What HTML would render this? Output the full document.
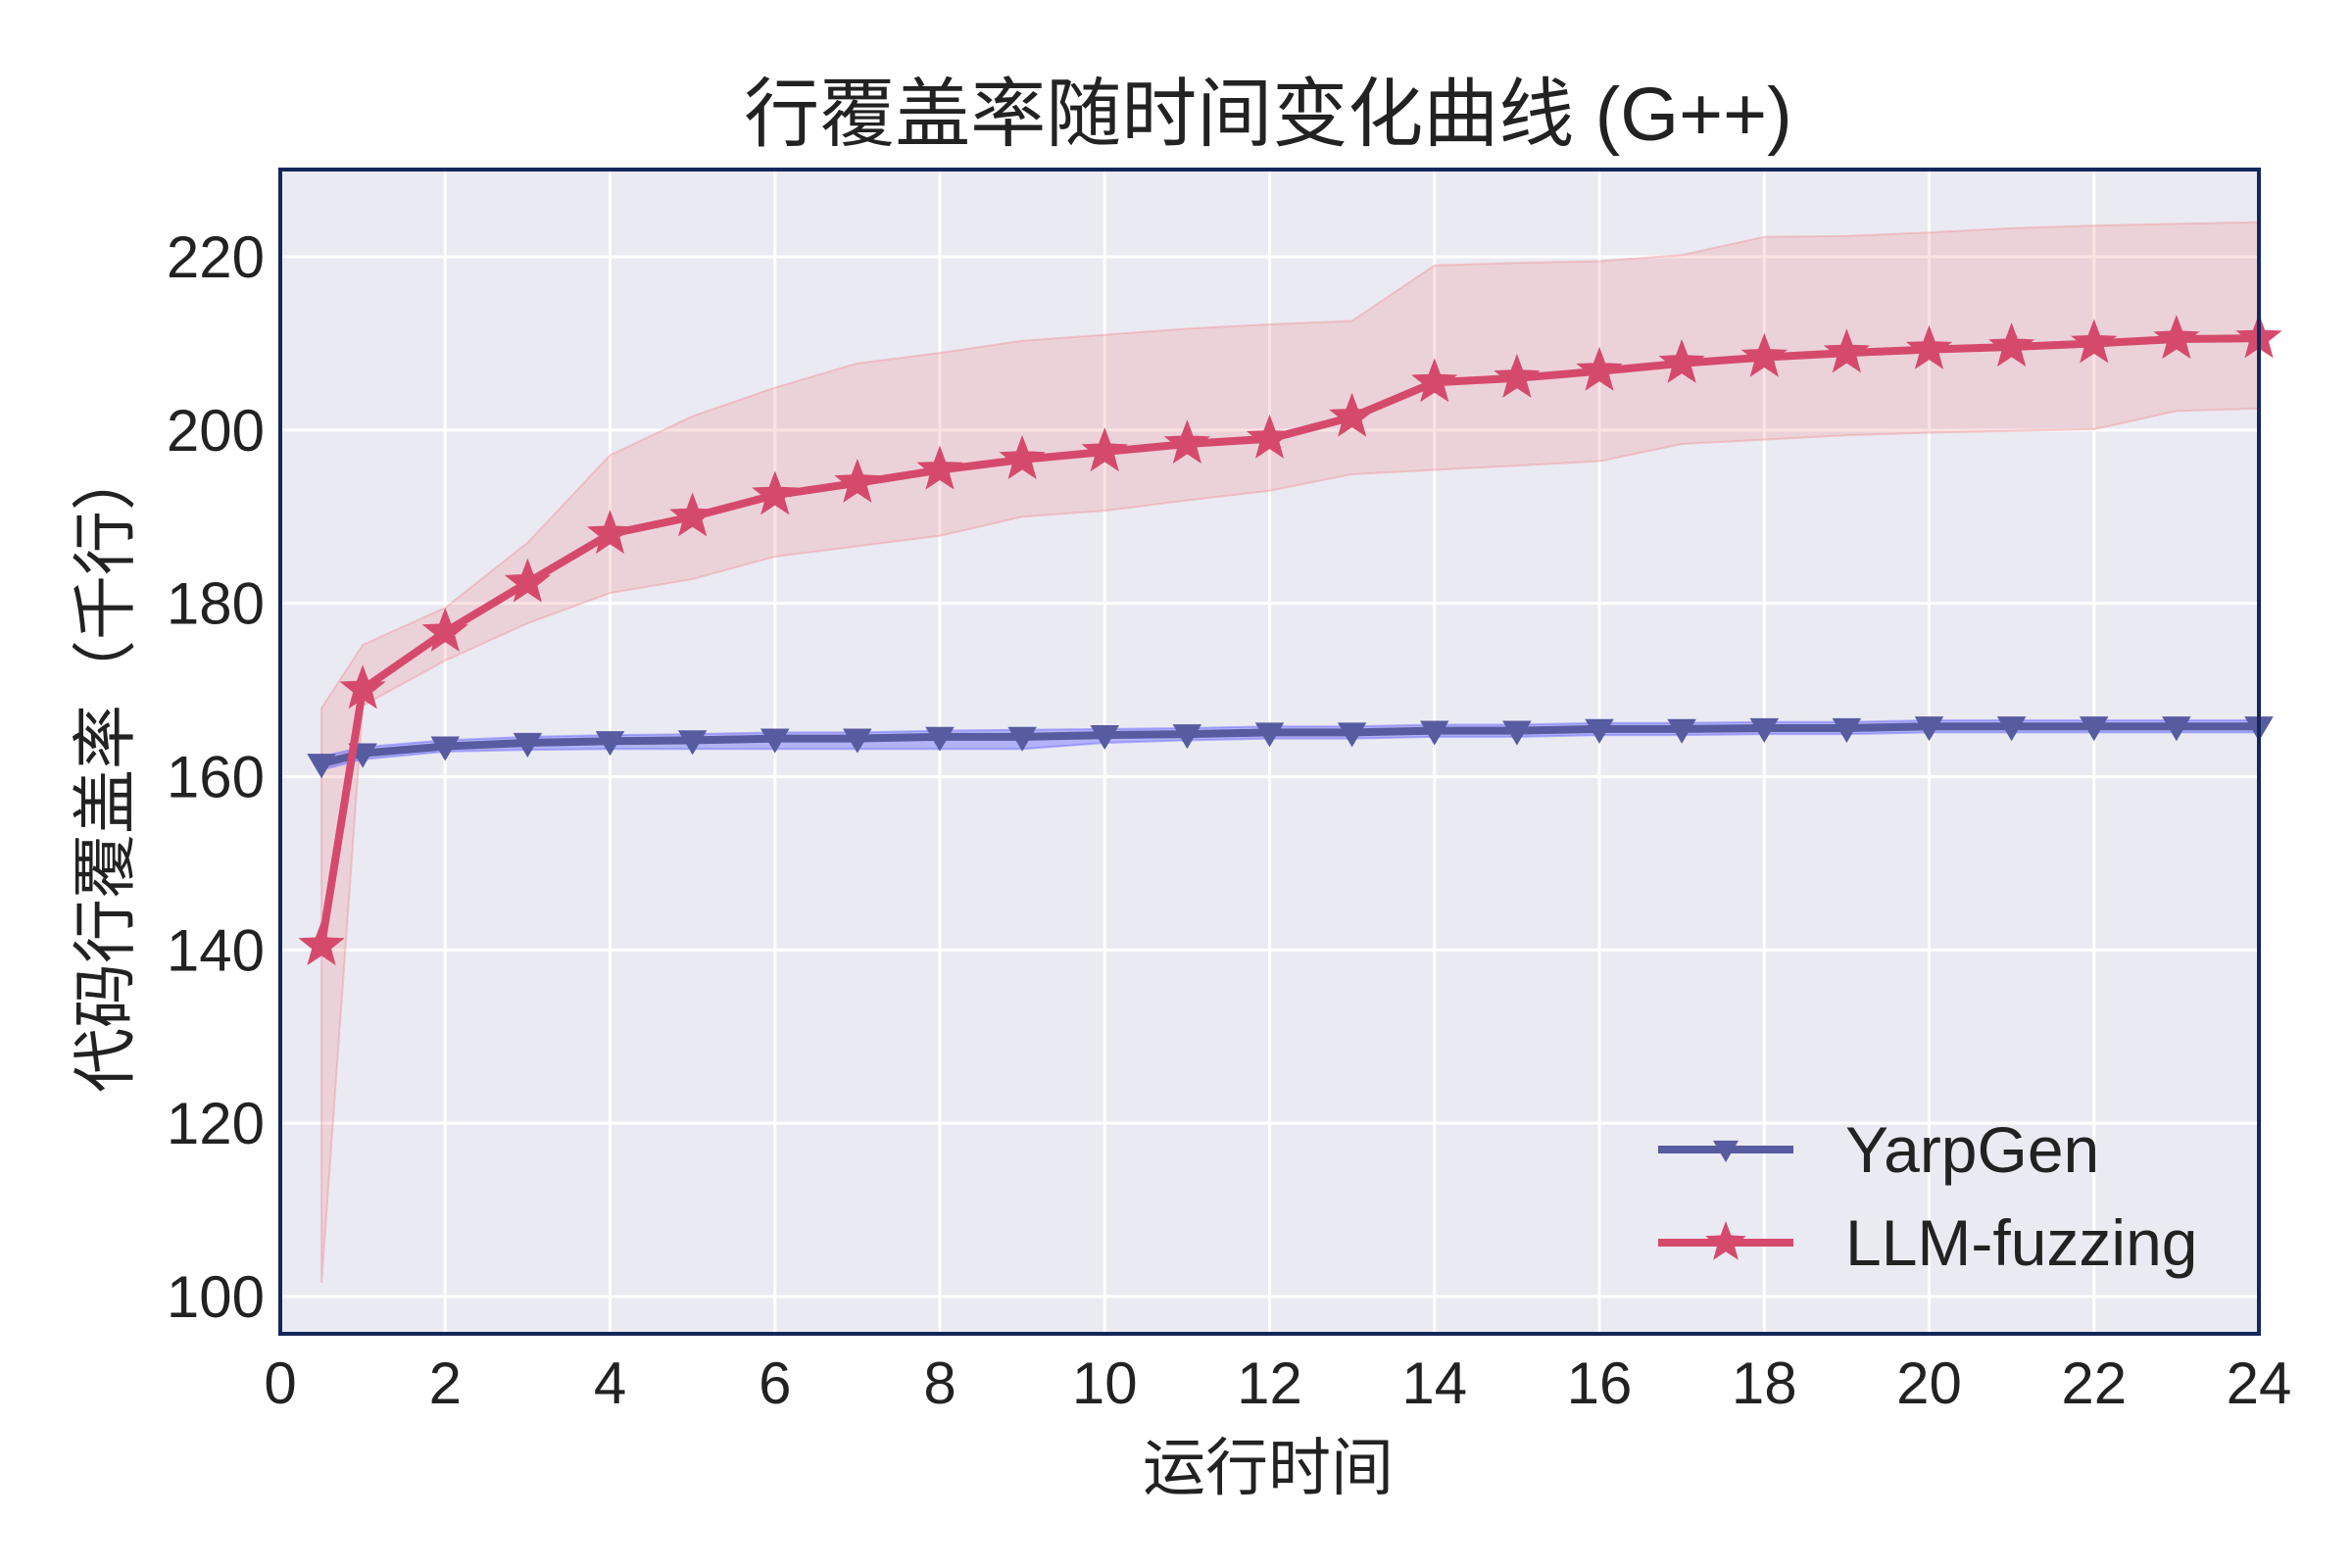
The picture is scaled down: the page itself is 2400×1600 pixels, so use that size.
<!DOCTYPE html>
<html><head><meta charset="utf-8">
<style>
html,body{margin:0;padding:0;background:#fff;}
svg{display:block;font-family:"Liberation Sans","Noto Sans CJK SC",sans-serif;}
</style></head>
<body>
<svg id="chart" width="2400" height="1600" viewBox="0 0 2400 1600" xmlns="http://www.w3.org/2000/svg"></svg>
<script>
const xs = [0.5,1,2,3,4,5,6,7,8,9,10,11,12,13,14,15,16,17,18,19,20,21,22,23,24];
const llmMean = [140.5,170.1,176.7,182.4,188,190,192.5,193.9,195.4,196.6,197.5,198.4,199.0,201.5,205.5,206,206.8,207.7,208.4,208.9,209.3,209.6,210,210.5,210.6];
const llmUpper = [167.9,175.2,179.5,187,197.1,201.6,204.9,207.7,208.9,210.3,211,211.7,212.2,212.6,219,219.3,219.5,220.2,222.3,222.4,222.8,223.3,223.6,223.8,224];
const llmLower = [101.6,168.2,173.4,177.7,181.2,182.8,185.4,186.6,187.8,190,190.7,191.9,193,194.9,195.4,195.9,196.4,198.4,198.9,199.4,199.7,199.9,200.1,202.2,202.5];
const yarpMean = [161.5,162.7,163.5,163.9,164.1,164.2,164.4,164.4,164.6,164.6,164.8,164.9,165.1,165.1,165.3,165.3,165.5,165.5,165.6,165.6,165.8,165.8,165.8,165.8,165.8];
const yarpUpper = [162.3,163.4,164.2,164.6,164.8,164.9,165.1,165.1,165.3,165.4,165.5,165.6,165.8,165.8,166,166,166.2,166.2,166.3,166.3,166.5,166.5,166.5,166.5,166.5];
const yarpLower = [160.8,162.0,162.9,163.1,163.2,163.2,163.2,163.2,163.2,163.2,163.9,164.2,164.4,164.4,164.6,164.6,164.8,164.8,164.9,164.9,165.1,165.1,165.1,165.1,165.1];
const xTicks = [0,2,4,6,8,10,12,14,16,18,20,22,24];
const yTicks = [100,120,140,160,180,200,220];

const L=286,R=2305,T=173,B=1361;
const X0=0,X1=24,Y0=95.7,Y1=230.07;
const sx=v=>L+(v-X0)/(X1-X0)*(R-L);
const sy=v=>B-(v-Y0)/(Y1-Y0)*(B-T);
const svg=document.getElementById('chart');
const NS='http://www.w3.org/2000/svg';
function mk(tag,attrs,parent){const e=document.createElementNS(NS,tag);for(const k in attrs)e.setAttribute(k,attrs[k]);(parent||svg).appendChild(e);return e;}

let e=mk('rect',{x:L,y:T,width:R-L,height:B-T,fill:'#eaeaf2'});



const grid=mk('g',{stroke:'#ffffff','stroke-width':3});


xTicks.forEach(t=>mk('line',{x1:sx(t),x2:sx(t),y1:T,y2:B},grid));
yTicks.forEach(t=>mk('line',{x1:L,x2:R,y1:sy(t),y2:sy(t)},grid));

function band(up,lo,fill,stroke,name){
  let d='M'+xs.map((x,i)=>sx(x)+','+sy(up[i])).join(' L');
  for(let i=xs.length-1;i>=0;i--)d+=' L'+sx(xs[i])+','+sy(lo[i]);
  d+=' Z';
  const p=mk('path',{d:d,fill:fill,stroke:stroke,'stroke-width':2});
  
  
}
band(llmUpper,llmLower,'rgba(240,140,145,0.25)','rgba(240,140,145,0.4)','llm-fuzzing-band');
band(yarpUpper,yarpLower,'rgba(110,110,255,0.45)','rgba(110,110,255,0.5)','yarpgen-band');

function starPath(cx,cy,r){let d='';for(let i=0;i<10;i++){const rr=i%2?r*0.42:r;const a=-Math.PI/2+i*Math.PI/5;d+=(i?'L':'M')+(cx+rr*Math.cos(a)).toFixed(1)+','+(cy+rr*Math.sin(a)).toFixed(1);}return d+'Z';}
function triPath(cx,cy,r){return `M${cx-r},${cy-r*0.7}L${cx+r},${cy-r*0.7}L${cx},${cy+r}Z`;}

function series(ys,color,name,marker,r){
  const g=mk('g',{});
  
  
  mk('polyline',{points:xs.map((x,i)=>sx(x)+','+sy(ys[i])).join(' '),fill:'none',stroke:color,'stroke-width':8,'stroke-linejoin':'round'},g);
  xs.forEach((x,i)=>{
    const m=mk('path',{d:marker(sx(x),sy(ys[i]),r),fill:color,stroke:color,'stroke-width':2},g);
    
    
  });
}
series(yarpMean,'#575b9f','yarpgen',triPath,13);
series(llmMean,'#d54a6c','llm-fuzzing',starPath,22);

const frame=mk('rect',{x:L,y:T,width:R-L,height:B-T,fill:'none',stroke:'#13275a','stroke-width':4});



xTicks.forEach(t=>{const tx=mk('text',{x:sx(t),y:1432,'text-anchor':'middle','font-size':60,fill:'#222'});tx.textContent=t;

});
yTicks.forEach(t=>{const tx=mk('text',{x:270,y:sy(t)+21,'text-anchor':'end','font-size':60,fill:'#222'});tx.textContent=t;

});

let t=mk('text',{x:1294,y:143,'text-anchor':'middle','font-size':77,fill:'#222'});t.textContent='行覆盖率随时间变化曲线 (G++)';


t=mk('text',{x:1294,y:1520,'text-anchor':'middle','font-size':64,fill:'#222'});t.textContent='运行时间';


t=mk('text',{x:0,y:0,'text-anchor':'middle','font-size':66,fill:'#222',transform:'translate(130,785) rotate(-90)'});t.textContent='代码行覆盖率（千行）';



const lg=mk('g',{});


[['YarpGen','#575b9f',triPath,13,1173],['LLM-fuzzing','#d54a6c',starPath,22,1268]].forEach(([lab,c,mf,r,y])=>{
  const g=mk('g',{},lg);
  
  
  mk('line',{x1:1692,x2:1830,y1:y,y2:y,stroke:c,'stroke-width':8},g);
  mk('path',{d:mf(1761,y,r),fill:c},g);
  const tx=mk('text',{x:1883,y:y+23,'font-size':66,fill:'#222'},g);tx.textContent=lab;
});
</script>
</body></html>
